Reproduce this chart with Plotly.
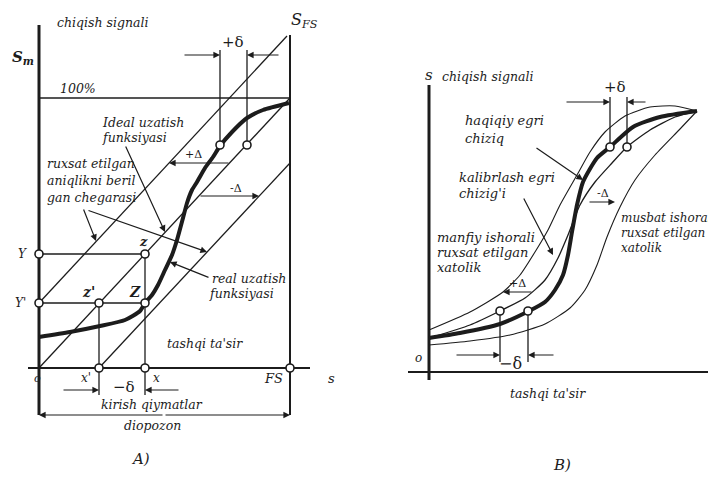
import plotly.graph_objects as go

# ---------------- Panel A data (units: offsets from origin O) ----------------
A_FS = 251            # full-scale input
A_FULL = 270          # 100 % output
A_X_PRIME = 60        # x'
A_X = 106             # x
A_Y_PRIME = 65        # Y'
A_Y = 114             # Y

A_ideal_x = [0, 251]
A_ideal_y = [0, 270]
A_upper_x = [0, 248]
A_upper_y = [65, 332]
A_lower_x = [60, 251]
A_lower_y = [0, 205]

A_real_x = [0, 31, 61, 86, 101, 106, 113, 119, 126, 133, 138, 144, 148, 153, 158, 166, 174, 181, 193, 208, 224, 250]
A_real_y = [31, 36, 42, 48, 57, 65, 73, 83, 98, 113, 128, 150, 165, 178, 186, 200, 211, 222, 236, 250, 258, 265]

A_pts_x = [0, 0, 106, 60, 106, 60, 106, 251, 181, 208]
A_pts_y = [114, 65, 114, 65, 65, 0, 0, 0, 223, 223]

# ---------------- Panel B data ----------------
B_thick_x = [0, 31, 71, 100, 116, 126, 134, 139, 143, 148, 154, 168, 181, 204, 231, 268]
B_thick_y = [34, 39, 48, 61, 70, 82, 97, 117, 140, 167, 190, 214, 225, 245, 255, 261]

B_upper_x = [0, 41, 74, 91, 106, 119, 131, 148, 161, 176, 196, 221, 246, 268]
B_upper_y = [42, 60, 80, 97, 120, 142, 167, 197, 220, 240, 256, 265, 266, 261]

B_real_x = [0, 41, 71, 96, 116, 129, 139, 151, 166, 183, 198, 221, 246, 268]
B_real_y = [34, 47, 61, 74, 92, 114, 137, 167, 190, 209, 225, 242, 255, 261]

B_lower_x = [0, 41, 81, 116, 141, 156, 168, 178, 191, 206, 226, 251, 268]
B_lower_y = [27, 31, 37, 48, 64, 82, 107, 135, 165, 192, 217, 243, 261]

B_pts_x = [181, 198, 71, 99]
B_pts_y = [225, 225, 61, 61]

INK = "#1c1c1c"
FONT = "DejaVu Serif"
TS = 12.5   # body text size

fig = go.Figure()


def line(xs, ys, w=1.3, ax="A", color=INK, dash="solid"):
    fig.add_trace(go.Scatter(
        x=xs, y=ys, mode="lines",
        line=dict(color=color, width=w, shape="spline", smoothing=0.6, dash=dash),
        xaxis="x" if ax == "A" else "x2", yaxis="y" if ax == "A" else "y2",
        hoverinfo="skip", showlegend=False))


def seg(x0, y0, x1, y1, w=1.3, ax="A"):
    fig.add_trace(go.Scatter(
        x=[x0, x1], y=[y0, y1], mode="lines",
        line=dict(color=INK, width=w),
        xaxis="x" if ax == "A" else "x2", yaxis="y" if ax == "A" else "y2",
        hoverinfo="skip", showlegend=False))


def circles(xs, ys, ax="A"):
    fig.add_trace(go.Scatter(
        x=xs, y=ys, mode="markers",
        marker=dict(size=8, color="white", line=dict(color=INK, width=1.6)),
        xaxis="x" if ax == "A" else "x2", yaxis="y" if ax == "A" else "y2",
        hoverinfo="skip", showlegend=False))


annots = []


def text(t, x, y, ax="A", size=TS, anchor="left", italic=True, bold=False):
    annots.append(dict(
        text=f"<i>{t}</i>" if italic else t, x=x, y=y,
        xref="x" if ax == "A" else "x2", yref="y" if ax == "A" else "y2",
        showarrow=False, xanchor=anchor, yanchor="middle",
        font=dict(family=FONT, size=size, color=INK,
                  weight="bold" if bold else "normal")))


def arrow(x0, y0, x1, y1, ax="A", w=1.2):
    xr = "x" if ax == "A" else "x2"
    yr = "y" if ax == "A" else "y2"
    annots.append(dict(
        x=x1, y=y1, ax=x0, ay=y0, xref=xr, yref=yr, axref=xr, ayref=yr,
        showarrow=True, arrowhead=2, arrowsize=1.1, arrowwidth=w,
        arrowcolor=INK, text=""))


# ================= Panel A =================
seg(0, 343, 0, -47, w=3)                 # output axis
seg(-11, 0, 271, 0, w=2)                 # input axis
seg(A_FS, 333, A_FS, -47, w=2)           # FS vertical
seg(0, A_FULL, A_FS, A_FULL, w=1.5)      # 100 % line
line(A_ideal_x, A_ideal_y)
line(A_upper_x, A_upper_y)
line(A_lower_x, A_lower_y)
line(A_real_x, A_real_y, w=4)

# construction lines
seg(0, A_Y, A_X, A_Y)
seg(0, A_Y_PRIME, A_X, A_Y_PRIME)
seg(A_X_PRIME, A_Y_PRIME, A_X_PRIME, -27)
seg(A_X, A_Y, A_X, -27)
seg(181, 223, 181, 318)
seg(208, 223, 208, 318)

# dimension arrows
arrow(144, 313, 181, 313)
arrow(241, 313, 208, 313)
arrow(23, -22, A_X_PRIME, -22)
arrow(141, -22, A_X, -22)
arrow(125, -47, 0, -47)
arrow(125, -47, A_FS, -47)
arrow(191, 205, 130, 205)          # +Delta
arrow(160, 172, 220, 172)          # -Delta

# leader lines
arrow(86, 223, 126, 136)
arrow(44, 160, 57, 127)
arrow(48, 158, 168, 116)
arrow(171, 90, 131, 106)

circles(A_pts_x, A_pts_y)

text("chiqish signali", 16, 346)
text("S<sub>m</sub>", -16, 311, size=15, anchor="center", bold=True)
text("S<sub>FS</sub>", 250, 348, size=16)
text("100%", 19, 280)
text("Ideal uzatish", 61, 246)
text("funksiyasi", 61, 231)
text("ruxsat etilgan", 6, 205)
text("aniqlikni beril", 6, 188)
text("gan chegarasi", 6, 171)
text("+Δ", 154, 214, size=11, anchor="center", italic=False)
text("-Δ", 197, 180, size=11, anchor="center", italic=False)
text("+δ", 194, 326, size=15, anchor="center", italic=False)
text("Y", -17, 114, size=12, anchor="center")
text("Y'", -19, 65, size=12, anchor="center")
text("z", 104, 127, size=13, anchor="center", bold=True)
text("z'", 49, 76, size=14, anchor="center", bold=True)
text("Z", 96, 76, size=14, anchor="center", bold=True)
text("real uzatish", 171, 90)
text("funksiyasi", 168, 75)
text("tashqi ta'sir", 166, 25, anchor="center")
text("o", -2, -10, size=11, anchor="center")
text("x'", 47, -10, size=12, anchor="center")
text("x", 117, -10, size=12, anchor="center")
text("FS", 234, -10, size=13, anchor="center")
text("s", 292, -10, size=13, anchor="center")
text("−δ", 85, -19, size=15, anchor="center", italic=False)
text("kirish qiymatlar", 113, -36, anchor="center")
text("diopozon", 113, -57, anchor="center")
text("A)", 101, -91, size=15, anchor="center")

# ================= Panel B =================
seg(0, 287, 0, -8, ax="B", w=3)
seg(-21, 0, 287, 0, ax="B", w=2)
line(B_upper_x, B_upper_y, ax="B", w=1.1)
line(B_lower_x, B_lower_y, ax="B", w=1.1)
line(B_real_x, B_real_y, ax="B", w=1.3)
line(B_thick_x, B_thick_y, ax="B", w=4)

seg(181, 225, 181, 275, ax="B")
seg(198, 225, 198, 275, ax="B")
seg(71, 61, 71, 10, ax="B")
seg(99, 61, 99, 10, ax="B")
arrow(136, 270, 181, 270, ax="B")
arrow(218, 270, 198, 270, ax="B")
arrow(26, 17, 71, 17, ax="B")
arrow(126, 17, 99, 17, ax="B")
arrow(104, 80, 74, 80, ax="B")       # +Delta
arrow(159, 170, 186, 170, ax="B")    # -Delta

arrow(106, 225, 154, 192, ax="B")
arrow(94, 175, 124, 117, ax="B")

circles(B_pts_x, B_pts_y, ax="B")

text("s", 0, 297, ax="B", size=15, anchor="center")
text("chiqish signali", 11, 296, ax="B")
text("haqiqiy egri", 34, 252, ax="B", size=13)
text("chiziq", 34, 234, ax="B", size=13)
text("kalibrlash egri", 28, 195, ax="B", size=13)
text("chizig'i", 28, 179, ax="B", size=13)
text("manfiy ishorali", 6, 135, ax="B", size=13)
text("ruxsat etilgan", 6, 120, ax="B", size=13)
text("xatolik", 6, 105, ax="B", size=13)
text("musbat ishorali", 190, 154, ax="B", size=12)
text("ruxsat etilgan", 190, 139, ax="B", size=12)
text("xatolik", 190, 124, ax="B", size=12)
text("+δ", 186, 285, ax="B", size=15, anchor="center", italic=False)
text("-Δ", 174, 179, ax="B", size=11, anchor="center", italic=False)
text("+Δ", 88, 89, ax="B", size=11, anchor="center", italic=False)
text("−δ", 81, 9, ax="B", size=16, anchor="center", italic=False)
text("o", -11, 14, ax="B", size=12, anchor="center")
text("tashqi ta'sir", 119, -21, ax="B", anchor="center")
text("B)", 133, -93, ax="B", size=15, anchor="center")

# The page body has an 8 px margin, so ranges are offset to keep the drawing in place.
hidden = dict(visible=False, showgrid=False, zeroline=False, fixedrange=True)
fig.update_layout(
    width=716, height=477,
    margin=dict(l=0, r=0, t=0, b=0),
    paper_bgcolor="white", plot_bgcolor="white",
    xaxis=dict(range=[-31, 685], domain=[0, 1], **hidden),
    yaxis=dict(range=[-117, 360], domain=[0, 1], **hidden),
    xaxis2=dict(range=[-421, 295], overlaying="x", **hidden),
    yaxis2=dict(range=[-113, 364], overlaying="y", **hidden),
    annotations=annots,
    showlegend=False,
)

fig.write_html("out.html")
